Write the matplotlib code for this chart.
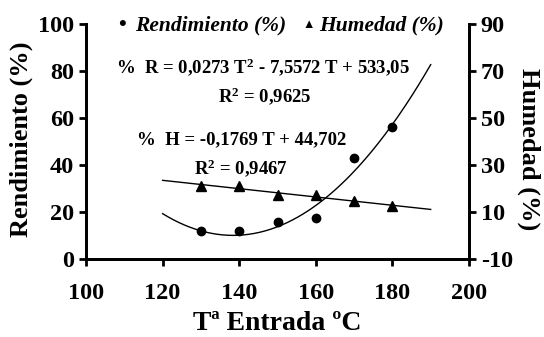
import numpy as np
import matplotlib
matplotlib.use('Agg')
import matplotlib.pyplot as plt

plt.rcParams['font.family'] = ['Liberation Serif', 'DejaVu Serif']
plt.rcParams['font.weight'] = 'bold'
plt.rcParams['axes.unicode_minus'] = False
plt.rcParams['mathtext.fontset'] = 'custom'
plt.rcParams['mathtext.rm'] = 'Liberation Serif:bold'
plt.rcParams['mathtext.bf'] = 'Liberation Serif:bold'
plt.rcParams['mathtext.default'] = 'rm'

# data
temp = [130, 140, 150, 160, 170, 180]
rendimiento = [11.8, 12.0, 15.6, 17.6, 43.0, 56.0]
humedad = [21.0, 21.0, 17.4, 17.2, 14.6, 12.6]

# trendline coefficients as printed on the chart
r_coef = [0.0273, -7.5572, 533.05]
h_coef = [-0.1769, 44.702]
fit_range = (120, 190)

fig = plt.figure(figsize=(5.44, 3.37), dpi=100)
ax = fig.add_axes([86 / 544, 1 - 259 / 337, (469 - 86) / 544, (259 - 24) / 337])
ax2 = ax.twinx()

t = np.linspace(*fit_range, 200)
ax.plot(t, np.polyval(r_coef, t), color='black', lw=1)
ax.plot(temp, rendimiento, 'o', color='black', ms=6)
ax2.plot(t, np.polyval(h_coef, t), color='black', lw=1)
ax2.plot(temp, humedad, '^', color='black', ms=7)

ax.set_xlim(100, 200)
ax.set_ylim(0, 100)
ax2.set_ylim(-10, 90)
ax.set_xticks(range(100, 201, 20))
ax.set_yticks(range(0, 101, 20))
ax2.set_yticks(range(-10, 91, 20))

for a in (ax, ax2):
    a.spines['top'].set_visible(False)
    for s in a.spines.values():
        s.set_linewidth(2)
    a.tick_params(width=2, length=5, direction='out', labelsize=17.5)
ax.tick_params(axis='x', pad=12)

ax.set_xlabel('Tª Entrada ºC', fontsize=20, fontweight='bold', va='top')
ax.set_ylabel('Rendimiento (%)', fontsize=19, fontweight='bold', va='bottom')
ax2.set_ylabel('Humedad (%)', fontsize=19, fontweight='bold', rotation=270, va='bottom')
ax.xaxis.set_label_coords(0.5, -0.222)
ax.yaxis.set_label_coords(-0.138, 0.51)
ax2.yaxis.set_label_coords(1.125, 0.468)

# legend row at the top
ax.text(0.085, 0.995, '\u2022', transform=ax.transAxes, fontsize=16, va='center', ha='left')
ax.text(0.128, 0.995, 'Rendimiento (%)', transform=ax.transAxes, fontsize=15.5,
        style='italic', fontweight='bold', va='center', ha='left')
ax.text(0.565, 0.995, '\u25b2', transform=ax.transAxes, fontsize=9, va='center', ha='left')
ax.text(0.61, 0.995, 'Humedad (%)', transform=ax.transAxes, fontsize=15.5,
        style='italic', fontweight='bold', va='center', ha='left')

# trendline equations
ax.text(107.8, 81.5, '%  R = 0,0273 T$^{2}$ - 7,5572 T + 533,05', fontsize=13.5, ha='left', va='center')
ax.text(146.7, 69.5, 'R$^{2}$ = 0,9625', fontsize=13.5, ha='center', va='center')
ax.text(113.3, 50.6, '%  H = -0,1769 T + 44,702', fontsize=13.5, ha='left', va='center')
ax.text(140.5, 38.5, 'R$^{2}$ = 0,9467', fontsize=13.5, ha='center', va='center')

fig.savefig('out.png', dpi=100)
